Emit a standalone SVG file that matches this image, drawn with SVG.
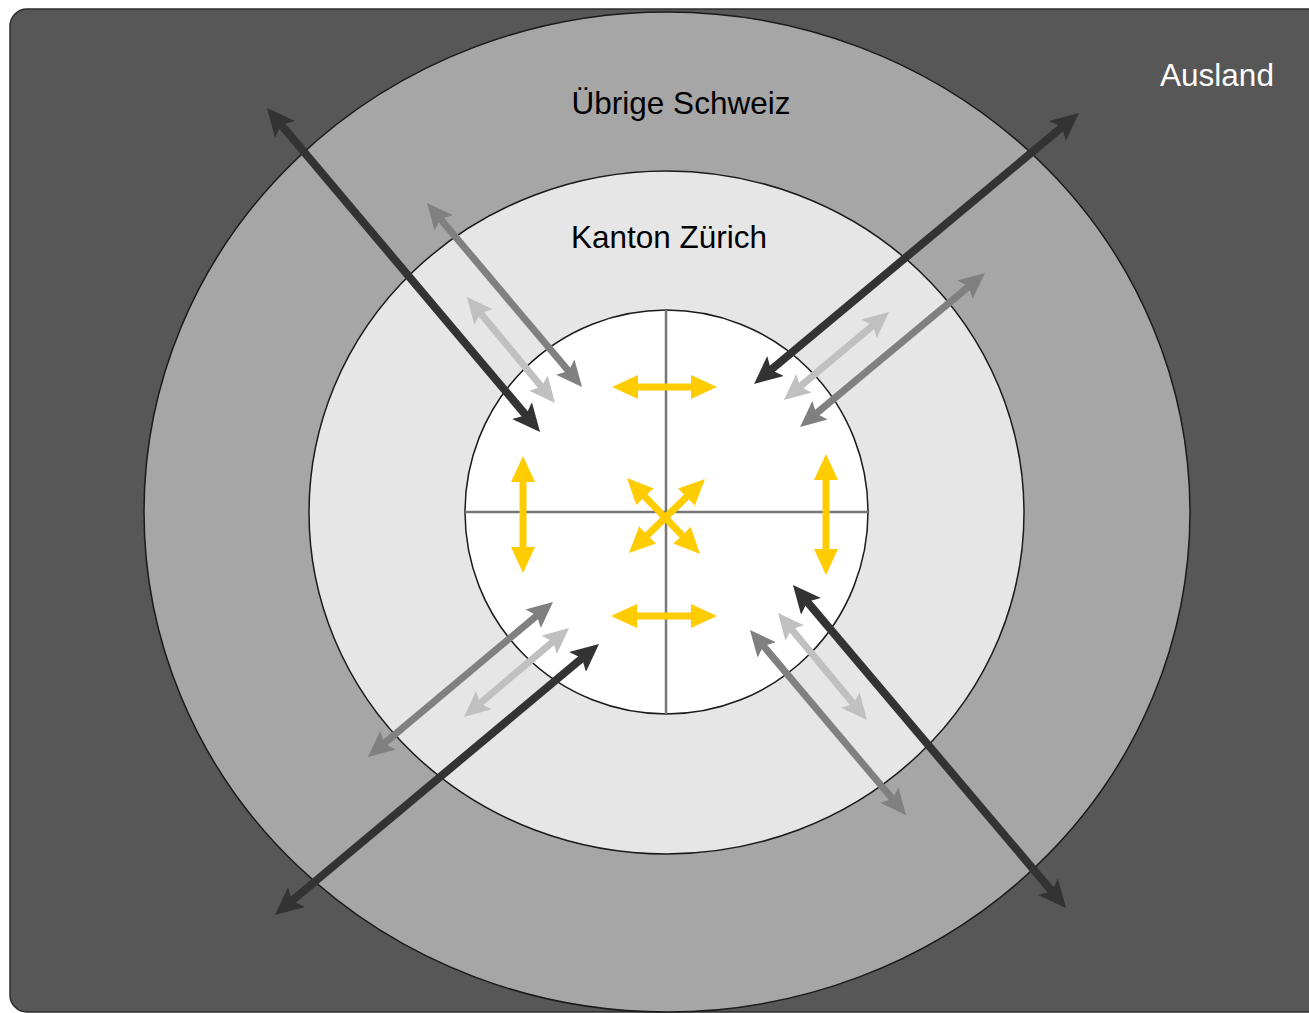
<svg xmlns="http://www.w3.org/2000/svg" width="1309" height="1013" viewBox="0 0 1309 1013">
<defs>
<style>
.lbl{font-family:"Liberation Sans",Arial,sans-serif;font-size:31.5px;text-anchor:middle}
.dk{stroke:#333333;stroke-width:8;fill:none;marker-start:url(#hDk);marker-end:url(#hDk)}
.md{stroke:#808080;stroke-width:7;fill:none;marker-start:url(#hMd);marker-end:url(#hMd)}
.lt{stroke:#c0c0c0;stroke-width:7;fill:none;marker-start:url(#hLt);marker-end:url(#hLt)}
.yl{stroke:#ffcc00;stroke-width:7;fill:none;marker-start:url(#hYl);marker-end:url(#hYl)}
.ring{stroke:#1a1a1a;stroke-width:1.5}
</style>
<marker id="hDk" markerUnits="userSpaceOnUse" markerWidth="28" markerHeight="26" refX="14" refY="13" orient="auto-start-reverse" viewBox="0 0 28 26"><path d="M0,0 L28,13 L0,26 L6,13 z" fill="#333333"/></marker>
<marker id="hMd" markerUnits="userSpaceOnUse" markerWidth="26" markerHeight="24" refX="12" refY="12" orient="auto-start-reverse" viewBox="0 0 26 24"><path d="M0,0 L26,12 L0,24 L5,12 z" fill="#808080"/></marker>
<marker id="hLt" markerUnits="userSpaceOnUse" markerWidth="26" markerHeight="24" refX="12" refY="12" orient="auto-start-reverse" viewBox="0 0 26 24"><path d="M0,0 L26,12 L0,24 L5,12 z" fill="#c0c0c0"/></marker>
<marker id="hYl" markerUnits="userSpaceOnUse" markerWidth="26" markerHeight="24" refX="12" refY="12" orient="auto-start-reverse" viewBox="0 0 26 24"><path d="M0,0 L26,12 L0,24 z" fill="#ffcc00"/></marker>
</defs>
<rect width="1309" height="1013" fill="#ffffff"/>
<g id="ausland">
<rect x="10" y="9" width="1330" height="1003" rx="17" fill="#575757" stroke="#2e2e2e" stroke-width="1.5"/>
<text class="lbl" x="1217" y="86" fill="#ffffff">Ausland</text>
</g>
<g id="schweiz">
<ellipse class="ring" cx="667" cy="512" rx="523" ry="500" fill="#a6a6a6"/>
<text class="lbl" x="681" y="114" fill="#000000">Übrige Schweiz</text>
</g>
<g id="zuerich">
<ellipse class="ring" cx="666.5" cy="512.5" rx="357.5" ry="341.5" fill="#e6e6e6"/>
<text class="lbl" x="669" y="248" fill="#000000">Kanton Zürich</text>
</g>
<g id="stadt">
<ellipse class="ring" cx="666.5" cy="512" rx="201.5" ry="202" fill="#ffffff"/>
<line x1="666" y1="310" x2="666" y2="714" stroke="#777777" stroke-width="2.5"/>
<line x1="465" y1="512" x2="868" y2="512" stroke="#777777" stroke-width="2.5"/>
</g>
<g id="connectors">
<line class="md" x1="436.0" y1="213.7" x2="573.0" y2="376.3"/>
<line class="md" x1="974.2" y1="282.0" x2="810.8" y2="418.0"/>
<line class="md" x1="542.3" y1="611.0" x2="378.7" y2="748.0"/>
<line class="md" x1="759.0" y1="640.7" x2="897.0" y2="804.3"/>
<line class="lt" x1="475.9" y1="307.8" x2="546.1" y2="392.2"/>
<line class="lt" x1="878.3" y1="321.0" x2="794.7" y2="391.0"/>
<line class="lt" x1="558.3" y1="637.1" x2="474.7" y2="707.9"/>
<line class="lt" x1="787.0" y1="623.8" x2="858.0" y2="709.2"/>
<line class="dk" x1="276.0" y1="118.7" x2="531.0" y2="421.3"/>
<line class="dk" x1="1068.2" y1="122.0" x2="764.8" y2="375.0"/>
<line class="dk" x1="285.7" y1="906.0" x2="588.3" y2="653.0"/>
<line class="dk" x1="802.0" y1="595.7" x2="1057.0" y2="897.3"/>
<line class="yl" x1="626" y1="387" x2="703" y2="387"/>
<line class="yl" x1="625" y1="616" x2="703" y2="616"/>
<line class="yl" x1="523" y1="470" x2="523" y2="559"/>
<line class="yl" x1="826" y1="468" x2="826" y2="561"/>
<line class="yl" x1="636.7" y1="488.1" x2="690.3" y2="543.9"/>
<line class="yl" x1="695.0" y1="488.8" x2="639.0" y2="543.2"/>
</g>
</svg>
